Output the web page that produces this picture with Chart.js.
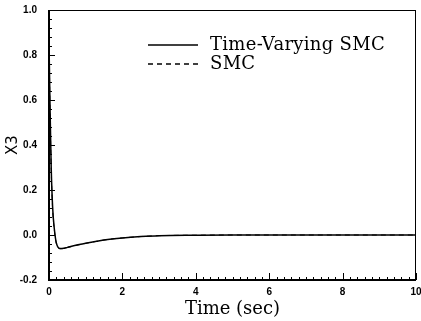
<!DOCTYPE html>
<html>
<head>
<meta charset="utf-8">
<script src="https://cdn.jsdelivr.net/npm/chart.js@4/dist/chart.umd.min.js"></script>
<style>
  html, body { margin: 0; padding: 0; background: #fff; }
  #wrap { width: 421px; height: 321px; }
</style>
</head>
<body>
<div id="wrap"><canvas id="c" width="421" height="321"></canvas></div>
<script>
// valores
const tiempos = [0, 0.03, 0.06, 0.1, 0.15, 0.2, 0.3, 0.4, 0.5, 0.7, 1.0, 1.3, 1.6, 2.0, 2.5, 3.0, 4, 5, 6, 8, 10];
const x3Variable = [0.86, 0.55, 0.3, 0.12, 0.02, -0.035, -0.06, -0.059, -0.055, -0.047, -0.037, -0.028, -0.02, -0.013, -0.007, -0.003, -0.001, 0, 0, 0, 0];
const x3Smc = [0.86, 0.54, 0.29, 0.11, 0.015, -0.038, -0.061, -0.06, -0.056, -0.048, -0.037, -0.028, -0.02, -0.013, -0.007, -0.003, -0.001, 0, 0, 0, 0];
const etiquetasX = [0, 2, 4, 6, 8, 10];
const etiquetasY = [-0.2, 0.0, 0.2, 0.4, 0.6, 0.8, 1.0];
const nombres = ['Time-Varying SMC', 'SMC'];

const puntos = (ys) => tiempos.map((t, i) => ({ x: t, y: ys[i] }));

// marco, marcas menores hacia dentro y leyenda dibujada a mano
const marcoPlugin = {
  id: 'marco',
  afterDraw(chart) {
    const { ctx, chartArea: a, scales } = chart;
    const sx = scales.x, sy = scales.y;
    ctx.save();
    ctx.strokeStyle = '#000';
    // bordes finos arriba y derecha
    ctx.lineWidth = 1;
    ctx.beginPath();
    ctx.moveTo(a.left, a.top + 0.5); ctx.lineTo(a.right, a.top + 0.5);
    ctx.moveTo(a.right - 0.5, a.top); ctx.lineTo(a.right - 0.5, a.bottom);
    ctx.stroke();
    // ejes gruesos
    ctx.lineWidth = 2;
    ctx.beginPath();
    ctx.moveTo(a.left, a.top); ctx.lineTo(a.left, a.bottom);
    ctx.lineTo(a.right, a.bottom);
    ctx.stroke();
    // marcas eje x cada 0.2
    ctx.lineWidth = 1;
    ctx.beginPath();
    for (let k = 0; k <= 50; k++) {
      const v = k * 0.2;
      const px = Math.round(sx.getPixelForValue(v)) + 0.5;
      const largo = (k % 10 === 0) ? 7 : 3;
      ctx.moveTo(px, a.bottom); ctx.lineTo(px, a.bottom - largo);
    }
    // marcas eje y cada 0.04
    for (let k = 0; k <= 30; k++) {
      const v = -0.2 + k * 0.04;
      const py = Math.round(sy.getPixelForValue(v)) + 0.5;
      const largo = (k % 5 === 0) ? 6 : 3;
      ctx.moveTo(a.left, py); ctx.lineTo(a.left + largo, py);
    }
    ctx.stroke();

    // leyenda
    ctx.font = '18px "DejaVu Serif"';
    ctx.letterSpacing = '0.3px';
    ctx.textBaseline = 'middle';
    ctx.fillStyle = '#000';
    chart.data.datasets.forEach((ds, i) => {
      const y = 45 + i * 19;
      ctx.setLineDash(ds.borderDash || []);
      ctx.lineWidth = 1.3;
      ctx.beginPath();
      ctx.moveTo(148, y); ctx.lineTo(198, y);
      ctx.stroke();
      ctx.setLineDash([]);
      ctx.fillText(ds.label, 210, y);
    });
    ctx.restore();
  }
};

new Chart(document.getElementById('c'), {
  type: 'line',
  data: {
    datasets: [
      {
        label: nombres[0],
        data: puntos(x3Variable),
        borderColor: '#000',
        borderWidth: 1.5,
        pointRadius: 0,
        cubicInterpolationMode: 'monotone'
      },
      {
        label: nombres[1],
        data: puntos(x3Smc),
        borderColor: '#000',
        borderWidth: 1,
        borderDash: [5, 4],
        pointRadius: 0,
        cubicInterpolationMode: 'monotone'
      }
    ]
  },
  plugins: [marcoPlugin],
  options: {
    responsive: false,
    animation: false,
    layout: { padding: { top: 8, right: 5, left: 0, bottom: 0 } },
    plugins: { legend: { display: false }, tooltip: { enabled: false } },
    scales: {
      x: {
        type: 'linear',
        min: 0, max: 10,
        afterBuildTicks: (s) => { s.ticks = etiquetasX.map(v => ({ value: v })); },
        afterFit: (s) => { s.height = 41; },
        grid: { display: false },
        border: { display: false },
        ticks: {
          color: '#000',
          padding: -2,
          maxRotation: 0,
          font: { family: '"Liberation Sans"', size: 10, weight: 'bold' },
          callback: (v) => String(v)
        },
        title: {
          display: true,
          text: 'Time (sec)',
          color: '#000',
          padding: { top: 0, bottom: 1 },
          font: { family: '"DejaVu Serif"', size: 18 }
        }
      },
      y: {
        type: 'linear',
        min: -0.2, max: 1.0,
        afterBuildTicks: (s) => { s.ticks = etiquetasY.map(v => ({ value: v })); },
        afterFit: (s) => { s.width = 49; },
        grid: { display: false },
        border: { display: false },
        ticks: {
          color: '#000',
          padding: 4,
          font: { family: '"Liberation Sans"', size: 10, weight: 'bold' },
          callback: (v) => (Math.abs(v) < 1e-9 ? 0 : v).toFixed(1)
        },
        title: {
          display: true,
          text: 'X3',
          color: '#000',
          padding: { top: 4, bottom: 0 },
          font: { family: '"DejaVu Sans"', size: 15 }
        }
      }
    }
  }
});
</script>
</body>
</html>
